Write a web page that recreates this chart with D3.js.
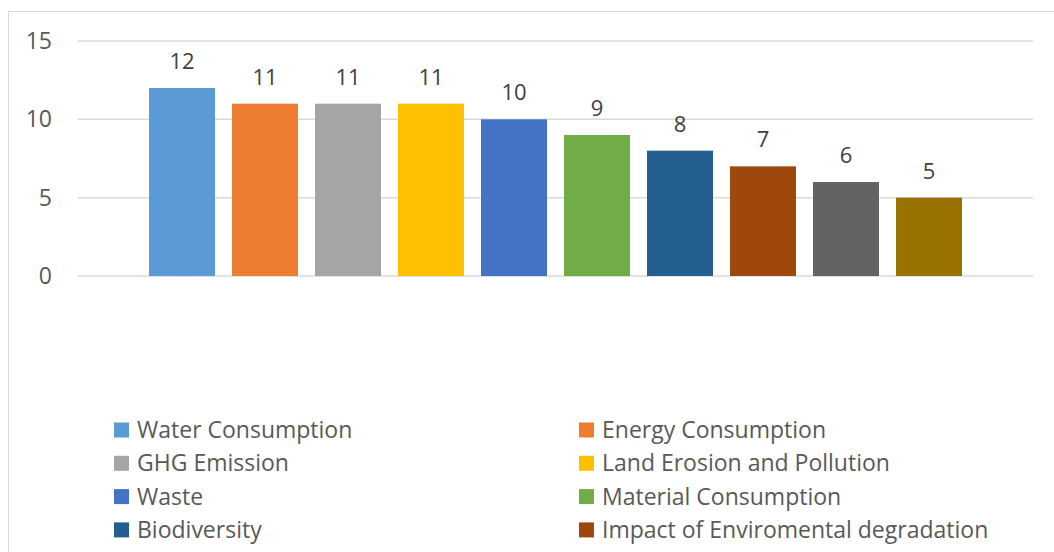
<!DOCTYPE html>
<html>
<head>
<meta charset="utf-8">
<script src="https://cdn.jsdelivr.net/npm/d3@7"></script>
<style>
  html, body { margin: 0; padding: 0; background: #fff; }
  svg { display: block; }
  text { font-family: "Open Sans", "Liberation Sans", sans-serif; }
</style>
</head>
<body>
<svg id="chart" width="1054" height="552"></svg>
<script>
// Impact categories shown in the legend (first eight series)
const seriesNames = [
  "Water Consumption",
  "Energy Consumption",
  "GHG Emission",
  "Land Erosion and Pollution",
  "Waste",
  "Material Consumption",
  "Biodiversity",
  "Impact of Enviromental degradation"
];
// Count per series, in drawing order
const seriesValues = [12, 11, 11, 11, 10, 9, 8, 7, 6, 5];
const seriesColors = ["#5B9BD5", "#ED7D31", "#A5A5A5", "#FFC000", "#4472C4",
                      "#70AD47", "#255E91", "#9E480E", "#636363", "#997300"];
const yTicks = [0, 5, 10, 15];

const svg = d3.select("#chart");

// chart frame
svg.append("rect")
  .attr("x", 8.5).attr("y", 11.5)
  .attr("width", 1100).attr("height", 600)
  .attr("fill", "none").attr("stroke", "#d9d9d9").attr("stroke-width", 1);

const plot = { left: 78, right: 1033, top: 41, bottom: 276 };

const y = d3.scaleLinear().domain([0, 15]).range([plot.bottom, plot.top]);

// one category holding all series; series cluster centred in the plot
const idx = d3.range(seriesValues.length);
const clusterWidth = 830;
const cx = (plot.left + plot.right) / 2;
const x = d3.scaleBand()
  .domain(idx)
  .range([cx - clusterWidth / 2, cx + clusterWidth / 2])
  .paddingInner(0.205)
  .paddingOuter(0.1025);

// gridlines
svg.append("g")
  .selectAll("line")
  .data(yTicks)
  .join("line")
  .attr("x1", plot.left).attr("x2", plot.right)
  .attr("y1", d => y(d)).attr("y2", d => y(d))
  .attr("stroke", "#d9d9d9").attr("stroke-width", 1.5);

// y axis labels
const yAxis = d3.axisLeft(y).tickValues(yTicks).tickSize(0).tickPadding(0);
svg.append("g")
  .attr("transform", `translate(52,0)`)
  .call(yAxis)
  .call(g => g.select(".domain").remove())
  .call(g => g.selectAll("text")
    .attr("fill", "#595959")
    .style("font-size", "23px")
    .style("font-family", "'Open Sans', sans-serif"));

// bars
svg.append("g")
  .selectAll("rect")
  .data(idx)
  .join("rect")
  .attr("x", i => x(i))
  .attr("width", x.bandwidth())
  .attr("y", i => y(seriesValues[i]))
  .attr("height", i => y(0) - y(seriesValues[i]))
  .attr("fill", i => seriesColors[i]);

// value labels
svg.append("g")
  .selectAll("text")
  .data(idx)
  .join("text")
  .attr("x", i => x(i) + x.bandwidth() / 2)
  .attr("y", i => y(seriesValues[i]) - 19)
  .attr("text-anchor", "middle")
  .attr("fill", "#404040")
  .style("font-size", "22px")
  .text(i => seriesValues[i]);

// legend: two columns
const legend = svg.append("g");
const colX = [114, 579];
const rowY0 = 430, rowStep = 33.3;
const item = legend.selectAll("g")
  .data(seriesNames)
  .join("g")
  .attr("transform", (d, i) => `translate(${colX[i % 2]},${rowY0 + Math.floor(i / 2) * rowStep})`);
item.append("rect")
  .attr("x", 0).attr("y", -7.5)
  .attr("width", 15).attr("height", 15)
  .attr("fill", (d, i) => seriesColors[i]);
item.append("text")
  .attr("x", 23).attr("y", 0)
  .attr("dy", "0.35em")
  .attr("fill", "#595959")
  .style("font-size", "23px")
  .text(d => d);
</script>
</body>
</html>
